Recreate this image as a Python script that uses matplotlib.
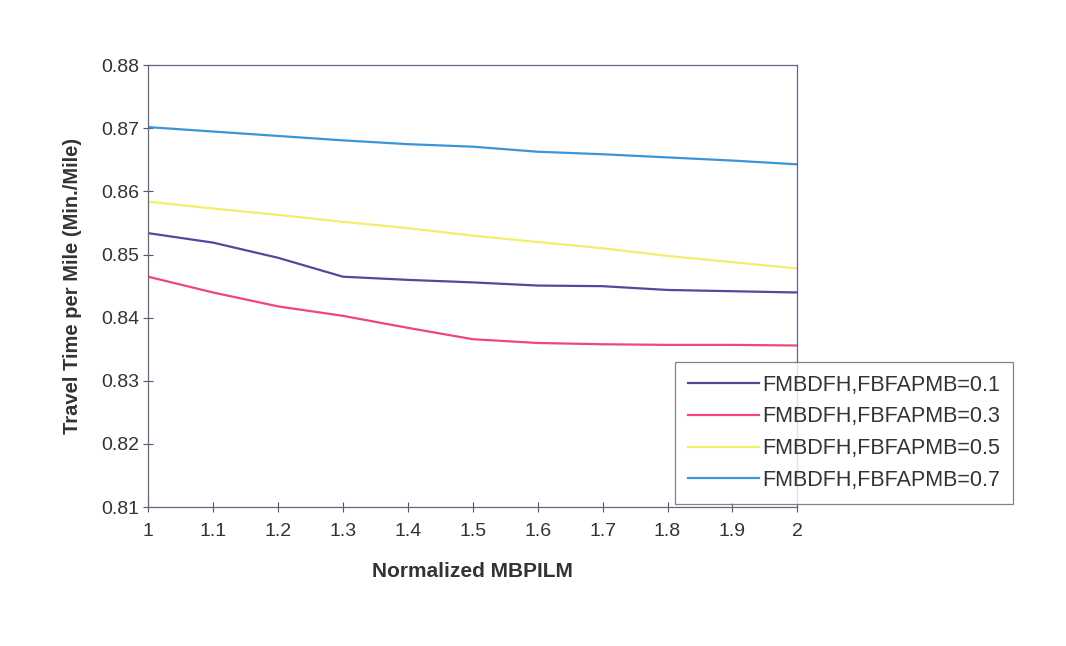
import matplotlib
matplotlib.use("Agg")
import matplotlib.pyplot as plt

plt.rcParams['font.family'] = ['Liberation Sans', 'DejaVu Sans']

# data (corrected for the slight scan tilt)
x = [1.0, 1.1, 1.2, 1.3, 1.4, 1.5, 1.6, 1.7, 1.8, 1.9, 2.0]
fb_01 = [0.8534, 0.8519, 0.8495, 0.8465, 0.8460, 0.8456, 0.8451, 0.8450, 0.8444, 0.8442, 0.8440]
fb_03 = [0.8465, 0.8440, 0.8418, 0.8403, 0.8384, 0.8366, 0.8360, 0.8358, 0.8357, 0.8357, 0.8356]
fb_05 = [0.8584, 0.8573, 0.8563, 0.8552, 0.8542, 0.8530, 0.8520, 0.8510, 0.8498, 0.8488, 0.8478]
fb_07 = [0.8702, 0.8695, 0.8688, 0.8681, 0.8675, 0.8671, 0.8663, 0.8659, 0.8654, 0.8649, 0.8643]

labels = ['FMBDFH,FBFAPMB=0.1', 'FMBDFH,FBFAPMB=0.3',
          'FMBDFH,FBFAPMB=0.5', 'FMBDFH,FBFAPMB=0.7']
colors = ['#55479a', '#f0457f', '#f2ef6a', '#3b95d8']

yticks = [0.81, 0.82, 0.83, 0.84, 0.85, 0.86, 0.87, 0.88]

fig = plt.figure(figsize=(10.66, 6.46), dpi=100)
ax = fig.add_axes([0.139, 0.215, 0.609, 0.684])

for ys, c, lab in zip([fb_01, fb_03, fb_05, fb_07], colors, labels):
    ax.plot(x, ys, color=c, lw=1.6, label=lab)

ax.set_xlim(1, 2)
ax.set_ylim(0.81, 0.88)
ax.set_xticks(x)
ax.set_xticklabels(['1', '1.1', '1.2', '1.3', '1.4', '1.5', '1.6', '1.7', '1.8', '1.9', '2'])
ax.set_yticks(yticks)
ax.set_yticklabels(['%.2f' % v for v in yticks])
ax.tick_params(direction='inout', length=7, width=0.8, color='#555566',
               labelsize=14, labelcolor='#333333')
ax.tick_params(axis='x', pad=8)
ax.tick_params(axis='y', pad=3)
for s in ax.spines.values():
    s.set_color('#666680')
    s.set_linewidth(0.9)

ax.set_xlabel('Normalized MBPILM', fontsize=15, fontweight='bold', color='#333333', labelpad=16)
ax.set_ylabel('Travel Time per Mile (Min./Mile)', fontsize=14.5, fontweight='bold', color='#333333', labelpad=14)

leg = fig.legend(loc='upper left', bbox_to_anchor=(0.633, 0.44), fontsize=15.5,
                 frameon=True, fancybox=False, handlelength=3.3, handletextpad=0.15,
                 labelspacing=0.5, borderpad=0.6, borderaxespad=0, labelcolor='#333333')
leg.get_frame().set_edgecolor('#666666')
leg.get_frame().set_linewidth(0.9)

plt.savefig('out.png', dpi=100)
